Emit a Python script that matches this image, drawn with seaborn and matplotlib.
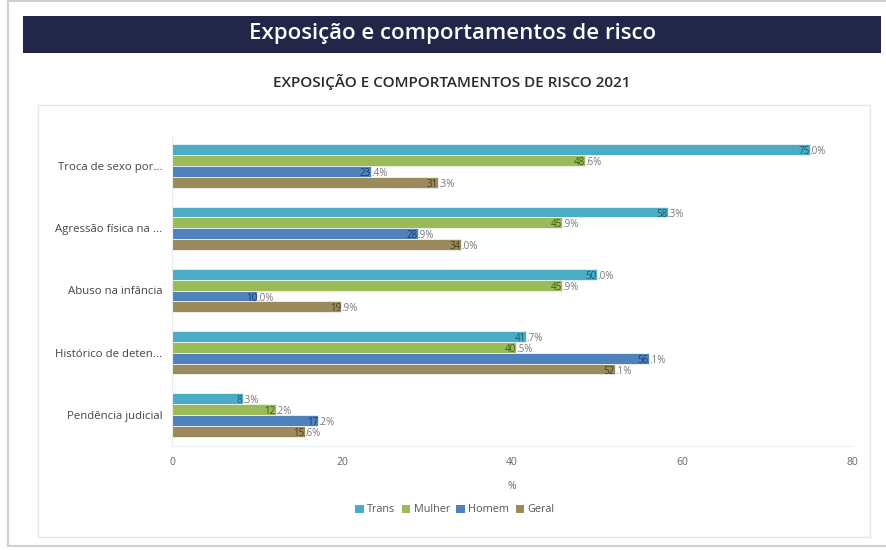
import matplotlib
matplotlib.use("Agg")
import matplotlib.pyplot as plt
import seaborn as sns
import pandas as pd
from matplotlib.patches import Rectangle

categories = ["Troca de sexo por...", "Agressão física na ...", "Abuso na infância",
              "Histórico de deten...", "Pendência judicial"]
groups = ["Trans", "Mulher", "Homem", "Geral"]
trans = [75.0, 58.3, 50.0, 41.7, 8.3]
mulher = [48.6, 45.9, 45.9, 40.5, 12.2]
homem = [23.4, 28.9, 10.0, 56.1, 17.2]
geral = [31.3, 34.0, 19.9, 52.1, 15.6]
xticks = [0, 20, 40, 60, 80]

colors = ["#4bacc6", "#9bbb59", "#4f81bd", "#9a8a5c"]
dark = ["#1d5a6e", "#3f5a16", "#1e3d73", "#4a3f1c"]

rows = []
for g, vals in zip(groups, [trans, mulher, homem, geral]):
    for c, v in zip(categories, vals):
        rows.append({"cat": c, "grupo": g, "val": v})
df = pd.DataFrame(rows)

sns.set_theme(style="white")
plt.rcParams["font.family"] = ["Open Sans", "DejaVu Sans"]

W, H = 886, 550
fig = plt.figure(figsize=(W / 100, H / 100), dpi=100)
fig.patch.set_facecolor("white")

def fx(px):
    return px / W

def fy(py):
    return 1 - py / H

# outer shadow frame
fig.patches.append(Rectangle((fx(8), fy(546)), fx(900) - fx(8), fy(1) - fy(546),
                             transform=fig.transFigure, facecolor="white",
                             edgecolor="#d0d0d0", linewidth=1.5, zorder=0))
# banner
fig.patches.append(Rectangle((fx(23), fy(53)), fx(881) - fx(23), fy(16) - fy(53),
                             transform=fig.transFigure, facecolor="#22274a",
                             edgecolor="none", zorder=1))
fig.text(fx(453), fy(34), "Exposição e comportamentos de risco", color="white",
         fontsize=16, ha="center", va="center", fontweight="semibold", zorder=2)
fig.text(fx(452), fy(82), "EXPOSIÇÃO E COMPORTAMENTOS DE RISCO 2021", color="#2a2a2a",
         fontsize=11, ha="center", va="center", fontweight="semibold", zorder=2)
# inner chart box
fig.patches.append(Rectangle((fx(38), fy(537)), fx(870) - fx(38), fy(105) - fy(537),
                             transform=fig.transFigure, facecolor="white",
                             edgecolor="#e6e6e6", linewidth=1.0, zorder=1))

ax = fig.add_axes([fx(172), fy(446), fx(852) - fx(172), fy(135) - fy(446)])
ax.set_zorder(3)
ax.patch.set_alpha(0)

sns.barplot(data=df, y="cat", x="val", hue="grupo", orient="h", palette=colors,
            saturation=1, width=0.7, edgecolor="#eef3f6", linewidth=0.6, ax=ax,
            legend=False)

ax.set_xlim(0, 80)
ax.set_xticks(xticks)
ax.set_xticklabels([str(t) for t in xticks])
ax.tick_params(axis="x", length=0, pad=8, labelsize=7.5, labelcolor="#666666")
ax.tick_params(axis="y", length=0, pad=7, labelsize=8.2, labelcolor="#444444")
ax.set_ylabel("")
ax.set_xlabel("%", fontsize=7.5, color="#666666", labelpad=9)
for s in ["top", "right"]:
    ax.spines[s].set_visible(False)
ax.spines["left"].set_color("#ececec")
ax.spines["bottom"].set_color("#e8eef2")
ax.spines["left"].set_linewidth(0.8)
ax.spines["bottom"].set_linewidth(0.8)
ax.grid(False)

# value labels
for gi, cont in enumerate(ax.containers):
    for bar in cont:
        v = bar.get_width()
        yc = bar.get_y() + bar.get_height() / 2
        s = f"{v:.1f}"
        ip, dp = s.split(".")
        ax.annotate(ip, (v, yc), xytext=(0, -1.5), textcoords="offset points",
                    ha="right", va="center", fontsize=7, color=dark[gi])
        ax.annotate("." + dp + "%", (v, yc), xytext=(0, -1.5), textcoords="offset points",
                    ha="left", va="center", fontsize=7, color="#777777")

# legend
handles = [Rectangle((0, 0), 1, 1, facecolor=c, edgecolor="none") for c in colors]
fig.legend(handles, groups, loc="center", bbox_to_anchor=(fx(455), fy(510)), ncol=4,
           frameon=False, fontsize=7.8, handlelength=0.8, handleheight=0.8,
           handletextpad=0.3, columnspacing=0.6, labelcolor="#555555")

fig.savefig("out.png", dpi=100, facecolor="white")
